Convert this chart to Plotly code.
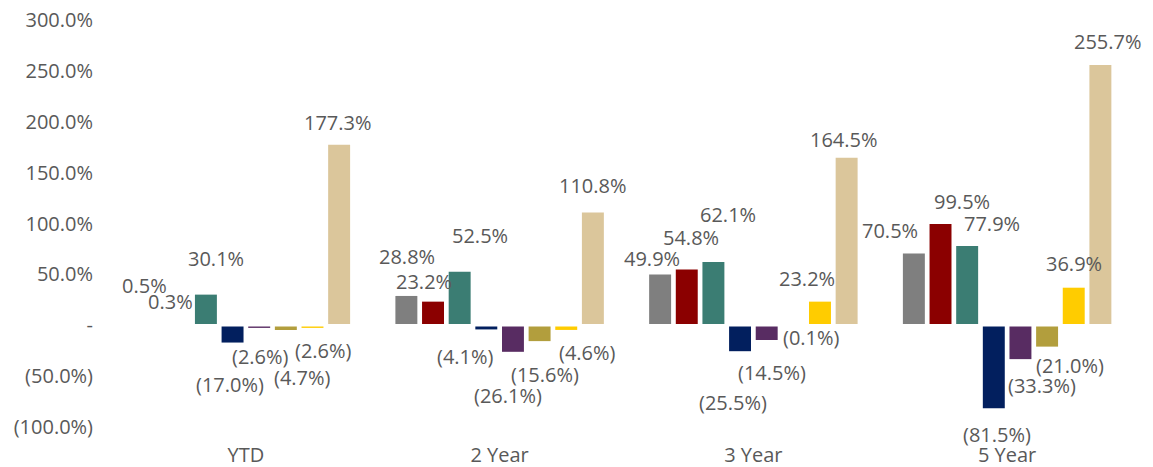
import plotly.graph_objects as go

# Periods on the category axis
categories = ["YTD", "2 Year", "3 Year", "5 Year"]

# Cumulative returns (%) for each series, one value per period
series_1 = [0.5, 28.8, 49.9, 70.5]
series_2 = [0.3, 23.2, 54.8, 99.5]
series_3 = [30.1, 52.5, 62.1, 77.9]
series_4 = [-17.0, -4.1, -25.5, -81.5]
series_5 = [-2.6, -26.1, -14.5, -33.3]
series_6 = [-4.7, -15.6, -0.1, -21.0]
series_7 = [-2.6, -4.6, 23.2, 36.9]
series_8 = [177.3, 110.8, 164.5, 255.7]

# Value axis ticks
y_tick_values = [300, 250, 200, 150, 100, 50, 0, -50, -100]
y_tick_labels = ["300.0%", "250.0%", "200.0%", "150.0%", "100.0%", "50.0%",
                 "-", "(50.0%)", "(100.0%)"]

all_series = [series_1, series_2, series_3, series_4,
              series_5, series_6, series_7, series_8]
colors = ["#7F7F7F", "#8B0000", "#3B7D73", "#021F5E",
          "#582C62", "#B29E3D", "#FFCC00", "#DBC69B"]

# Per-label nudges in pixels (dx right, dy up) so overlapping labels stay readable
label_nudges = [
    [(-8, 39.7), (0.5, 39.2), (-8.3, 15.5), (-24, 23.5)],
    [(-8.5, 23.2), (-9, 19.9), (4.7, 31.5), (21.2, 22.3)],
    [(10, 36.6), (20.5, 36.8), (14.5, 47.1), (24.7, 22.7)],
    [(-3, -41.5), (-21, -27.3), (-7, -51.2), (2.7, -26.8)],
    [(1.5, -28.8), (-5, -43.9), (5, -32.5), (21.8, -26.6)],
    [(17, -47), (5, -32.9), (18.2, -12.2), (23.3, -18.4)],
    [(11, -22.1), (21.5, -22.6), (-13.3, 23.3), (0, 24.4)],
    [(-1.5, 22.5), (0, 27.5), (-3, 17.9), (7.7, 24)],
]

FONT = "Open Sans"
FONT_SIZE = 20
TEXT_COLOR = "#595959"
BARGAP = 0.16
n = len(all_series)


def fmt(v):
    return f"({abs(v):.1f}%)" if v < 0 else f"{v:.1f}%"


fig = go.Figure()
x_idx = list(range(len(categories)))
for i, (vals, col) in enumerate(zip(all_series, colors)):
    fig.add_trace(go.Bar(
        x=x_idx, y=vals, name=f"Series {i + 1}",
        marker=dict(color=col, line=dict(width=0)),
        hoverinfo="skip",
    ))

annotations = []
slot = (1 - BARGAP) / n
for i, vals in enumerate(all_series):
    for c, v in enumerate(vals):
        dx, dy = label_nudges[i][c]
        annotations.append(dict(
            x=c + (i - (n - 1) / 2) * slot, y=v, xref="x", yref="y",
            text=fmt(v), showarrow=False, xanchor="center", yanchor="middle",
            xshift=dx, yshift=dy,
            font=dict(family=FONT, size=FONT_SIZE, color=TEXT_COLOR),
        ))

fig.update_layout(
    width=1153, height=467,
    margin=dict(l=118.5, r=18.5, t=20, b=40, autoexpand=False),
    paper_bgcolor="white", plot_bgcolor="white",
    barmode="group", bargap=BARGAP, bargroupgap=0.176,
    showlegend=False,
    annotations=annotations,
    font=dict(family=FONT, size=FONT_SIZE, color=TEXT_COLOR),
    # light baseline drawn over the bars at zero
    shapes=[dict(type="line", xref="paper", yref="y", x0=0, x1=1, y0=0, y1=0,
                 line=dict(color="#FFFFFF", width=2.5), layer="above")],
)
fig.update_xaxes(
    tickmode="array", tickvals=x_idx, ticktext=categories,
    range=[-0.5, len(categories) - 0.5],
    showgrid=False, zeroline=False, showline=False, ticks="",
    ticklabelstandoff=14, automargin=False,
    tickfont=dict(family=FONT, size=FONT_SIZE, color=TEXT_COLOR),
)
fig.update_yaxes(
    range=[-100, 300], tickmode="array",
    tickvals=y_tick_values, ticktext=y_tick_labels,
    showgrid=False, showline=False, ticks="", zeroline=False,
    ticklabelstandoff=25, automargin=False,
    tickfont=dict(family=FONT, size=FONT_SIZE, color=TEXT_COLOR),
)

fig.write_html("out.html")
